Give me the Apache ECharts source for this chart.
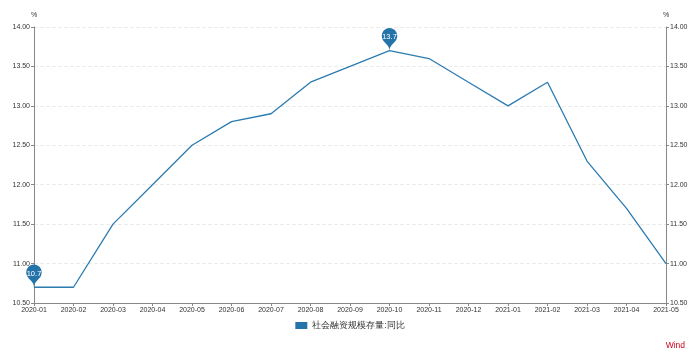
<!DOCTYPE html>
<html><head><meta charset="utf-8">
<script src="https://cdn.jsdelivr.net/npm/echarts@6/dist/echarts.min.js"></script>
<style>html,body{margin:0;padding:0;background:#fff}#c{width:700px;height:356px}</style>
</head><body><div id="c"></div>
<script>
var categories = ["2020-01","2020-02","2020-03","2020-04","2020-05","2020-06","2020-07","2020-08","2020-09","2020-10","2020-11","2020-12","2021-01","2021-02","2021-03","2021-04","2021-05"];
var values = [10.7,10.7,11.5,12.0,12.5,12.8,12.9,13.3,13.5,13.7,13.6,13.3,13.0,13.3,12.3,11.7,11.0];
var seriesName = "社会融资规模存量:同比";
var unit = "%";
var yMin = 10.5, yMax = 14.0, yStep = 0.5;

var chart = echarts.init(document.getElementById('c'));
var axisCommon = {
  type: 'value', min: yMin, max: yMax, interval: yStep,
  name: unit,
  nameGap: 8,
  nameTextStyle: {fontSize: 7, color: '#333'},
  axisLine: {show: true, lineStyle: {color: '#888'}},
  axisTick: {show: true, length: 3, lineStyle: {color: '#888'}},
  axisLabel: {fontSize: 7, color: '#333', margin: 4, formatter: function(v){return v.toFixed(2);}},
  splitLine: {show: true, lineStyle: {color: '#ececec', type: [4, 2]}}
};
chart.setOption({
  animation: false,
  grid: {left: 34, right: 34, top: 27, bottom: 53},
  xAxis: {
    type: 'category', data: categories, boundaryGap: false,
    axisLine: {lineStyle: {color: '#888'}},
    axisTick: {length: 3, alignWithLabel: true, lineStyle: {color: '#888'}},
    axisLabel: {fontSize: 7, color: '#333', margin: 4, interval: 0}
  },
  yAxis: [
    Object.assign({}, axisCommon, {position: 'left'}),
    Object.assign({}, axisCommon, {position: 'right', splitLine: {show: false}})
  ],
  legend: {
    bottom: 21, left: 'center', itemWidth: 12, itemHeight: 7, itemGap: 5,
    icon: 'rect',
    textStyle: {fontSize: 8.5, color: '#333'},
    data: [seriesName]
  },
  graphic: [{type: 'text', right: 15, bottom: 6, style: {text: 'Wind', fill: '#d0021b', font: '8.5px sans-serif'}}],
  series: [{
    name: seriesName, type: 'line', data: values, yAxisIndex: 0,
    symbol: 'none', smooth: false,
    itemStyle: {color: '#2574a9'},
    lineStyle: {color: '#2b7bb0', width: 1.3},
    markPoint: {
      symbol: 'pin', symbolSize: 26,
      label: {fontSize: 7.5, color: '#fff'},
      itemStyle: {color: '#2574a9'},
      data: [{type: 'max'}, {type: 'min'}]
    }
  }]
});
</script></body></html>
